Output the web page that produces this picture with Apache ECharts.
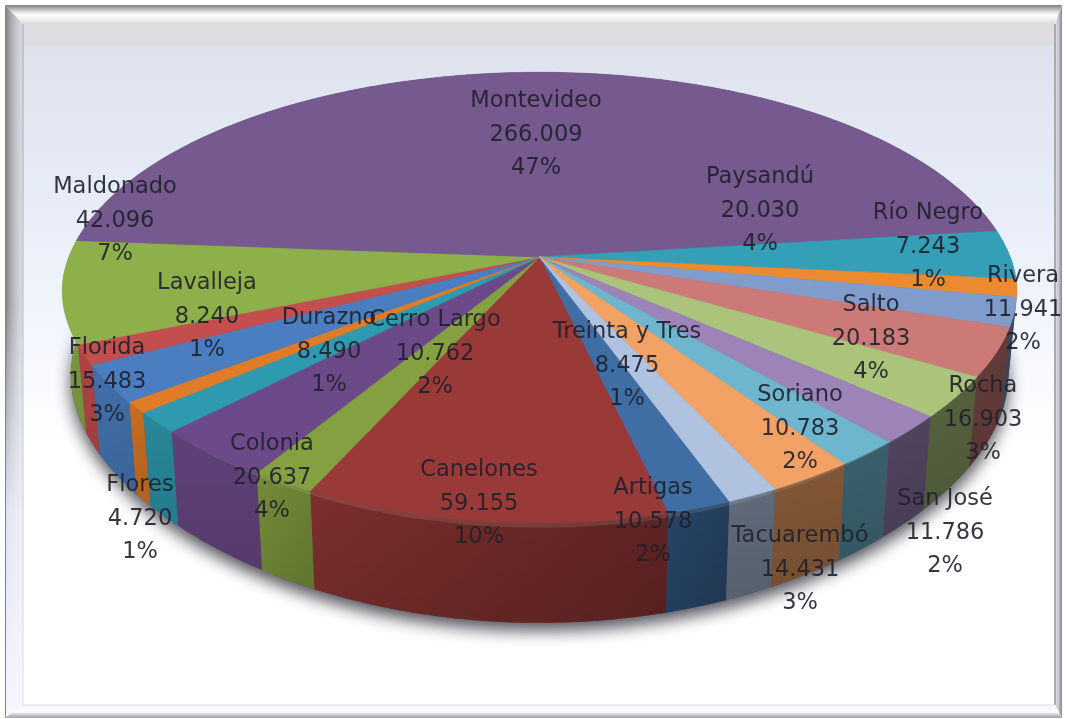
<!DOCTYPE html>
<html><head><meta charset="utf-8">
<style>html,body{margin:0;padding:0;background:#fff}#c{width:1066px;height:719px}</style>
<script src="https://cdn.jsdelivr.net/npm/echarts@6/dist/echarts.min.js"></script>
</head><body><div id="c"></div>
<script>
const departments = ['Artigas','Canelones','Cerro Largo','Colonia','Durazno','Flores','Florida','Lavalleja','Maldonado','Montevideo','Paysandú','Río Negro','Rivera','Salto','Rocha','San José','Soriano','Tacuarembó','Treinta y Tres'];
const population = [10578,59155,10762,20637,8490,4720,15483,8240,42096,266009,20030,7243,11941,20183,16903,11786,10783,14431,8475];
const sliceColors = ['#3F6EA5','#9A3A38','#85A040','#6C4A8A','#2E9AAF','#E07B28','#4A7EC0','#C44D4D','#8EB04A','#75598F','#34A0B8','#EC8A30','#7F9CCB','#CC7A78','#ABC37A','#9C83B8','#6EB6CE','#F3A266','#AFC2DF'];
const labelSpots = [[653,521],[479,503],[435,353],[272,477],[329,351],[140,518],[107,381],[207,316],[115,220],[536,134],[760,210],[928,246],[1023,309],[871,338],[983,419],[945,532],[800,428],[800,569],[627,365]];

const total = population.reduce((a,b)=>a+b,0);
const CX=539.5, CY=257, R=470.7, RY=218, K=0.18, DEPTH=82, START=160.2;
const rad=d=>d*Math.PI/180;
function pt(theta,down){
  const s=Math.sin(rad(theta)), c=-Math.cos(rad(theta)), w=1/(1-K*c);
  const diag=c>0?1-0.025*Math.pow(Math.sin(rad(2*theta)),2):1;
  const shrink=down?0.982:1;
  return [CX+R*s*w*diag*shrink, CY+RY*c*w*diag+(down||0)*w];
}
const bounds=[START];
population.forEach(v=>bounds.push(bounds[bounds.length-1]+v/total*360));
function arc(a,b,down){const out=[];const n=Math.max(2,Math.ceil(Math.abs(b-a)));for(let i=0;i<=n;i++)out.push(pt(a+(b-a)*i/n,down));return out;}
const knots=[[-180,.9],[-90,.92],[-50,.88],[-30,.88],[-24,.8],[10,.66],[20,.55],[90,.46],[180,.46]];
function shadeAt(theta){
  let al=180-(theta%360); if(al>180)al-=360; if(al<-180)al+=360;
  for(let i=1;i<knots.length;i++){if(al<=knots[i][0]){const[a,f]=knots[i-1],[b,g]=knots[i];return f+(g-f)*(al-a)/(b-a);}}
  return .46;
}
function mul(hex,f){const n=parseInt(hex.slice(1),16);return 'rgb('+[n>>16,(n>>8)&255,n&255].map(v=>Math.round(v*f)).join(',')+')';}
const rows=population.map((v,i)=>({name:departments[i],value:[v,i]}));
const LG=echarts.graphic.LinearGradient;

function bevelFrame(){
  const L=5,T=5,RR=1062,B=718,il=23,it=24,ir=1055,ib=705;
  const poly=(points,fill,z)=>({type:'polygon',silent:true,z:z||-5,shape:{points},style:{fill}});
  return [
    {type:'rect',silent:true,z:-6,shape:{x:il,y:it,width:ir-il,height:ib-it},style:{fill:new LG(0,0,0,1,[
      {offset:0,color:'#DEDCDF'},{offset:.03,color:'#DFDDE1'},{offset:.032,color:'#DEE2EC'},{offset:.25,color:'#E6ECF8'},{offset:.45,color:'#F3F6FC'},{offset:.62,color:'#FFFFFF'},{offset:1,color:'#FFFFFF'}])}},
    poly([[L,T],[RR,T],[ir,it],[il,it]],new LG(0,0,0,1,[{offset:0,color:'#7E7E7E'},{offset:.15,color:'#A6A6A6'},{offset:.4,color:'#E8E8E8'},{offset:.55,color:'#FDFDFD'},{offset:.75,color:'#F0F0F0'},{offset:1,color:'#DADADA'}])),
    poly([[L,T],[il,it],[il,ib],[L,B]],new LG(0,0,1,0,[{offset:0,color:'#7C7E82'},{offset:.3,color:'#A4A7AC'},{offset:.7,color:'#C9CCD2'},{offset:1,color:'#DADCE2'}])),
    poly([[L+1,T+300],[il,T+300],[il,ib],[L+1,B]],new LG(0,0,0,1,[{offset:0,color:'rgba(238,242,252,0)'},{offset:.5,color:'rgba(238,242,252,.85)'},{offset:1,color:'rgba(245,247,253,1)'}])),
    poly([[RR,T],[RR,B],[ir,ib],[ir,it]],new LG(0,0,1,0,[{offset:0,color:'#E4E6EA'},{offset:.5,color:'#C6C8CC'},{offset:1,color:'#85878A'}])),
    poly([[L,B],[il,ib],[ir,ib],[RR,B]],new LG(0,0,0,1,[{offset:0,color:'#F4F5F8'},{offset:.55,color:'#FBFBFD'},{offset:.75,color:'#C8C9D2'},{offset:1,color:'#A2A3AE'}])),
    {type:'line',silent:true,z:-4,shape:{x1:il,y1:it,x2:il,y2:ib},style:{stroke:new LG(0,0,0,1,[{offset:0,color:'#A0A2A6'},{offset:.6,color:'#C4C6CC'},{offset:1,color:'#E0E0E4'}]),lineWidth:1}},
    {type:'line',silent:true,z:-4,shape:{x1:ir,y1:it,x2:ir,y2:ib},style:{stroke:'#A8AAAE',lineWidth:2}},
    {type:'line',silent:true,z:-4,shape:{x1:il,y1:ib,x2:ir,y2:ib},style:{stroke:'#DDDDE2',lineWidth:1}},
  ];
}

const option={
  animation:false,
  graphic:{elements:bevelFrame()},
  series:[
    {type:'custom',coordinateSystem:'none',silent:true,z:2,data:[{name:'base',value:[total,0]}],
     renderItem(){
       return {type:'polygon',shape:{points:arc(0,360,DEPTH)},
         style:{fill:'#555',shadowBlur:16,shadowColor:'rgba(40,40,50,.8)',shadowOffsetY:8}};
     }},
    {type:'custom',coordinateSystem:'none',silent:true,z:3,data:rows,
     renderItem(p){
       const i=p.dataIndex,a=bounds[i],b=bounds[i+1],col=sliceColors[i];
       const top=arc(a,b,0),bot=arc(a,b,DEPTH).reverse();
       const rising=pt(a,0)[0]<pt(b,0)[0];
       const fa=mul(col,shadeAt(a)),fb=mul(col,shadeAt(b));
       return {type:'group',children:[
         {type:'polygon',shape:{points:top.concat(bot)},
          style:{fill:new LG(0,0,1,0,[{offset:0,color:rising?fa:fb},{offset:1,color:rising?fb:fa}])}},
         {type:'polygon',shape:{points:top.concat(bot)},
          style:{fill:new LG(0,0,0,1,[{offset:0,color:'rgba(0,0,0,0)'},{offset:1,color:'rgba(0,0,0,.1)'}])}},
         {type:'polygon',shape:{points:top.concat(arc(a,b,4).reverse())},style:{fill:'rgba(255,255,255,.1)'}}
       ]};
     }},
    {type:'custom',coordinateSystem:'none',silent:true,z:4,data:rows,
     renderItem(p){
       const i=p.dataIndex,a=bounds[i],b=bounds[i+1];
       return {type:'polygon',shape:{points:[[CX,CY]].concat(arc(a,b,0))},
               style:{fill:sliceColors[i],stroke:sliceColors[i],lineWidth:.6}};
     }},
    {type:'custom',coordinateSystem:'none',silent:true,z:5,data:rows,
     renderItem(p,api){
       const i=p.dataIndex,v=api.value(0);
       const txt=departments[i]+'\n'+String(v).replace(/\B(?=(\d{3})+$)/g,'.')+'\n'+Math.round(v/total*100)+'%';
       return {type:'text',style:{text:txt,x:labelSpots[i][0],y:labelSpots[i][1]+1,align:'center',verticalAlign:'middle',
         fill:'#20202B',opacity:.9,font:'22.5px "DejaVu Sans"',lineHeight:33.5}};
     }}
  ]
};
echarts.init(document.getElementById('c'),null,{renderer:'canvas'}).setOption(option);
</script></body></html>
